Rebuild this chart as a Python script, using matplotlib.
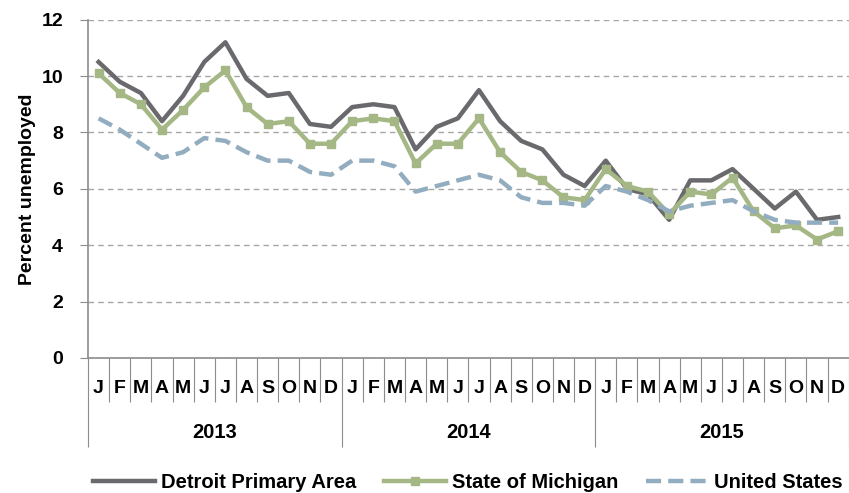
import numpy as np
import matplotlib.pyplot as plt
from matplotlib import transforms

plt.rcParams['font.family'] = ['Liberation Sans', 'DejaVu Sans']

# monthly unemployment rate, Jan 2013 - Dec 2015
years = ['2013', '2014', '2015']
months = ['J', 'F', 'M', 'A', 'M', 'J', 'J', 'A', 'S', 'O', 'N', 'D']

detroit = [10.5, 9.8, 9.4, 8.4, 9.3, 10.5, 11.2, 9.9, 9.3, 9.4, 8.3, 8.2,
           8.9, 9.0, 8.9, 7.4, 8.2, 8.5, 9.5, 8.4, 7.7, 7.4, 6.5, 6.1,
           7.0, 6.0, 5.8, 4.9, 6.3, 6.3, 6.7, 6.0, 5.3, 5.9, 4.9, 5.0]
michigan = [10.1, 9.4, 9.0, 8.1, 8.8, 9.6, 10.2, 8.9, 8.3, 8.4, 7.6, 7.6,
            8.4, 8.5, 8.4, 6.9, 7.6, 7.6, 8.5, 7.3, 6.6, 6.3, 5.7, 5.6,
            6.7, 6.1, 5.9, 5.1, 5.9, 5.8, 6.4, 5.2, 4.6, 4.7, 4.2, 4.5]
us = [8.5, 8.1, 7.6, 7.1, 7.3, 7.8, 7.7, 7.3, 7.0, 7.0, 6.6, 6.5,
      7.0, 7.0, 6.8, 5.9, 6.1, 6.3, 6.5, 6.3, 5.7, 5.5, 5.5, 5.4,
      6.1, 5.9, 5.6, 5.2, 5.4, 5.5, 5.6, 5.2, 4.9, 4.8, 4.8, 4.8]

def main():
    fig = plt.figure(figsize=(8.49, 4.93), dpi=100)
    ax = fig.add_axes([0.1037, 0.274, 0.896, 0.686])

    x = np.arange(len(detroit)) + 0.5
    ax.plot(x, detroit, color='#6a6a6e', lw=3.2, label='Detroit Primary Area')
    ax.plot(x, michigan, color='#a5b784', lw=3.2, marker='s', ms=5.5,
            label='State of Michigan')
    ax.plot(x, us, color='#93adc0', lw=3.2, ls=(0, (3.4, 1.6)),
            label='United States')

    ax.set_xlim(0, 36)
    ax.set_ylim(0, 12)
    ax.set_yticks(range(0, 13, 2))
    ax.set_yticklabels([str(v) for v in range(0, 13, 2)], fontweight='bold',
                       fontsize=14)
    ax.yaxis.grid(True, color='#a6a6a6', ls=(0, (4, 3)), lw=1)
    ax.set_axisbelow(True)
    ax.tick_params(axis='y', length=6, color='#8c8c8c', width=0.8, pad=12)
    ax.set_ylabel('Percent unemployed', fontweight='bold', fontsize=14,
                  labelpad=4)

    for s in ['top', 'right']:
        ax.spines[s].set_visible(False)
    for s in ['left', 'bottom']:
        ax.spines[s].set_color('#8c8c8c')
        ax.spines[s].set_linewidth(1.2)

    # category axis: month boundaries short, year boundaries long
    ax.set_xticks(range(0, 37, 12))
    ax.set_xticks(range(37), minor=True)
    ax.set_xticklabels([])
    ax.tick_params(axis='x', which='minor', length=32, color='#8c8c8c',
                   width=0.8)
    ax.tick_params(axis='x', which='major', length=64, color='#8c8c8c',
                   width=0.8)

    trans = transforms.blended_transform_factory(ax.transData, ax.transAxes)
    for i in range(36):
        ax.text(i + 0.5, -0.089, months[i % 12], transform=trans, ha='center',
                va='center', fontweight='bold', fontsize=14)
    for k, yr in enumerate(years):
        ax.text(12 * k + 6, -0.222, yr, transform=trans, ha='center',
                va='center', fontweight='bold', fontsize=14.5)

    fig.legend(loc='center', bbox_to_anchor=(0.551, 0.022), ncol=3,
               frameon=False, handlelength=3.1, columnspacing=1.35,
               handletextpad=0.3, prop={'weight': 'bold', 'size': 14.5})

    fig.savefig('out.png', dpi=100)

if __name__ == "__main__":
    main()
